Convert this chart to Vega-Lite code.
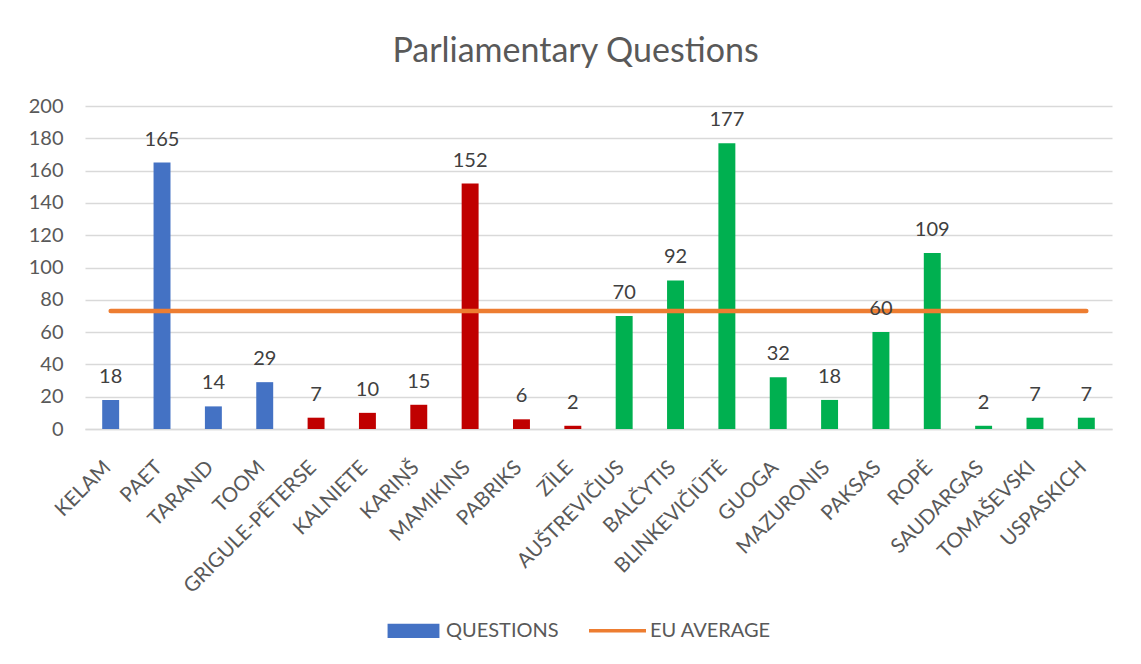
{
  "$schema": "https://vega.github.io/schema/vega-lite/v6.json",
  "autosize": {"type": "none"},
  "width": 1027,
  "height": 323,
  "padding": {"left": 85, "top": 106, "right": 29, "bottom": 235},
  "background": "white",
  "title": {
    "text": "Parliamentary Questions",
    "font": "Lato",
    "fontSize": 34,
    "fontWeight": "normal",
    "color": "#595959",
    "anchor": "middle",
    "frame": "group",
    "offset": 27,
    "dx": -23
  },
  "config": {
    "view": {"stroke": null},
    "font": "Lato",
    "axisY": {"labelOverlap": false},
    "axisX": {"labelOverlap": false}
  },
  "data": {
    "values": [
      {"name": "KELAM", "questions": 18, "country": "EE", "avg": 73},
      {"name": "PAET", "questions": 165, "country": "EE", "avg": 73},
      {"name": "TARAND", "questions": 14, "country": "EE", "avg": 73},
      {"name": "TOOM", "questions": 29, "country": "EE", "avg": 73},
      {"name": "GRIGULE-PĒTERSE", "questions": 7, "country": "LV", "avg": 73},
      {"name": "KALNIETE", "questions": 10, "country": "LV", "avg": 73},
      {"name": "KARIŅŠ", "questions": 15, "country": "LV", "avg": 73},
      {"name": "MAMIKINS", "questions": 152, "country": "LV", "avg": 73},
      {"name": "PABRIKS", "questions": 6, "country": "LV", "avg": 73},
      {"name": "ZĪLE", "questions": 2, "country": "LV", "avg": 73},
      {"name": "AUŠTREVIČIUS", "questions": 70, "country": "LT", "avg": 73},
      {"name": "BALČYTIS", "questions": 92, "country": "LT", "avg": 73},
      {"name": "BLINKEVIČIŪTĖ", "questions": 177, "country": "LT", "avg": 73},
      {"name": "GUOGA", "questions": 32, "country": "LT", "avg": 73},
      {"name": "MAZURONIS", "questions": 18, "country": "LT", "avg": 73},
      {"name": "PAKSAS", "questions": 60, "country": "LT", "avg": 73},
      {"name": "ROPĖ", "questions": 109, "country": "LT", "avg": 73},
      {"name": "SAUDARGAS", "questions": 2, "country": "LT", "avg": 73},
      {"name": "TOMAŠEVSKI", "questions": 7, "country": "LT", "avg": 73},
      {"name": "USPASKICH", "questions": 7, "country": "LT", "avg": 73}
    ]
  },
  "layer": [
    {
      "mark": {"type": "bar"},
      "encoding": {
        "x": {
          "field": "name",
          "type": "nominal",
          "sort": null,
          "scale": {"paddingInner": 0.67, "paddingOuter": 0.335},
          "axis": {
            "title": null,
            "labelAngle": -45,
            "labelFont": "Lato",
            "labelFontSize": 20.5,
            "labelColor": "#595959",
            "labelPadding": 28,
            "labelOffset": -10,
            "labelOverlap": false,
            "ticks": false,
            "domainColor": "#d9d9d9",
            "domainWidth": 1.5,
            "grid": false
          }
        },
        "y": {
          "field": "questions",
          "type": "quantitative",
          "scale": {"domain": [0, 200]},
          "axis": {
            "title": null,
            "values": [0, 20, 40, 60, 80, 100, 120, 140, 160, 180, 200],
            "labelOverlap": false,
            "labelFont": "Lato",
            "labelFontSize": 20,
            "labelColor": "#595959",
            "labelPadding": 22,
            "ticks": false,
            "domain": false,
            "gridColor": "#d9d9d9",
            "gridWidth": 1.5
          }
        },
        "fill": {
          "field": "country",
          "type": "nominal",
          "scale": {"domain": ["EE", "LV", "LT"], "range": ["#4472C4", "#C00000", "#00B050"]},
          "legend": null
        }
      }
    },
    {
      "mark": {"type": "line", "color": "#ED7D31", "strokeWidth": 4.5, "strokeCap": "round"},
      "encoding": {
        "x": {"field": "name", "type": "nominal", "sort": null},
        "y": {
          "field": "avg",
          "type": "quantitative",
          "axis": {
            "title": null,
            "values": [0, 20, 40, 60, 80, 100, 120, 140, 160, 180, 200],
            "labelOverlap": false,
            "labelFont": "Lato",
            "labelFontSize": 20,
            "labelColor": "#595959",
            "labelPadding": 22,
            "ticks": false,
            "domain": false,
            "gridColor": "#d9d9d9",
            "gridWidth": 1.5
          }
        }
      }
    },
    {
      "mark": {"type": "text", "dy": -17, "baseline": "alphabetic", "font": "Lato", "fontSize": 20, "color": "#404040"},
      "encoding": {
        "x": {"field": "name", "type": "nominal", "sort": null},
        "y": {
          "field": "questions",
          "type": "quantitative",
          "axis": {
            "title": null,
            "values": [0, 20, 40, 60, 80, 100, 120, 140, 160, 180, 200],
            "labelOverlap": false,
            "labelFont": "Lato",
            "labelFontSize": 20,
            "labelColor": "#595959",
            "labelPadding": 22,
            "ticks": false,
            "domain": false,
            "gridColor": "#d9d9d9",
            "gridWidth": 1.5
          }
        },
        "text": {"field": "questions", "type": "quantitative"}
      }
    },
    {
      "data": {"values": [{"series": "QUESTIONS"}, {"series": "EU AVERAGE"}]},
      "mark": {"type": "point", "filled": true, "size": 0, "opacity": 1},
      "encoding": {
        "color": {
          "field": "series",
          "type": "nominal",
          "sort": null,
          "scale": {"domain": ["QUESTIONS", "EU AVERAGE"], "range": ["#4472C4", "#ED7D31"]},
          "legend": {
            "title": null,
            "orient": "none",
            "direction": "horizontal",
            "legendX": 300,
            "legendY": 496,
            "columns": 2,
            "columnPadding": 30,
            "symbolSize": 3249,
            "symbolOpacity": 1,
            "symbolStrokeWidth": 0,
            "labelFont": "Lato",
            "labelFontSize": 20,
            "labelColor": "#595959",
            "labelOffset": 4,
            "padding": 0
          }
        },
        "shape": {
          "field": "series",
          "type": "nominal",
          "sort": null,
          "scale": {"domain": ["QUESTIONS", "EU AVERAGE"], "range": ["M-0.91,-0.25H0.91V0.25H-0.91Z", "M-1,-0.06H1V0.06H-1Z"]}
        }
      }
    }
  ]
}
